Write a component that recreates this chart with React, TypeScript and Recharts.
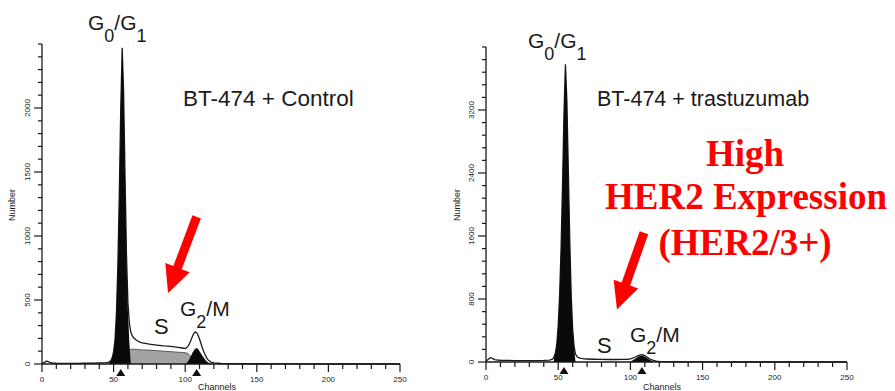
import React from 'react';
import { ComposedChart, Area, XAxis, YAxis, ReferenceDot, ReferenceLine } from 'recharts';

// channel positions shared by both histograms
const channels = [
  0, 2, 3, 4, 6, 8, 10, 15, 20, 25, 30, 35, 40, 44, 46, 47, 48, 49, 50,
  51, 52, 53, 54, 55, 56, 57, 58, 59, 60, 61, 62, 63, 64, 66, 68, 70,
  75, 80, 85, 90, 95, 98, 100, 101, 102, 103, 104, 105, 106, 107, 108, 109,
  110, 111, 112, 113, 114, 115, 116, 118, 120, 125, 130, 140, 150, 175, 200, 225, 250,
];

// BT-474 + Control
const controlTotal = [
  4, 14, 22, 20, 10, 7, 6, 5, 5, 5, 6, 6, 8, 10, 12, 16, 26, 48, 95,
  190, 400, 780, 1340, 2000, 2470, 2120, 1450, 850, 480, 320, 250, 222, 205, 185, 172, 165,
  155, 148, 142, 138, 130, 125, 120, 128, 140, 160, 185, 215, 238, 252, 245, 225,
  195, 160, 125, 95, 70, 48, 32, 15, 8, 4, 3, 2, 2, 1, 0, 0, 0,
];
const controlG1Channels = [47, 48, 49, 50, 51, 52, 53, 54, 55, 56, 57, 58, 59, 60, 61, 62];
const controlG1 = [14, 24, 46, 93, 188, 398, 778, 1338, 1998, 2468, 2118, 1440, 820, 420, 170, 0];
const controlSChannels = [61, 62, 63, 64, 66, 68, 70, 75, 80, 85, 90, 95, 98, 100, 101, 102, 103, 104, 105, 106, 107];
const controlS = [110, 114, 116, 115, 114, 112, 110, 108, 104, 100, 96, 92, 90, 88, 85, 80, 70, 55, 35, 15, 0];
const controlG2Channels = [100, 101, 102, 103, 104, 105, 106, 107, 108, 109, 110, 111, 112, 113, 114, 115, 116, 118, 120];
const controlG2 = [0, 8, 22, 40, 62, 85, 105, 120, 125, 118, 100, 82, 65, 48, 34, 22, 12, 3, 0];
const controlMarkers = [55, 108];
const controlArrow = [[108, 1150], [88, 555]];

// BT-474 + trastuzumab
const trastTotal = [
  10, 40, 55, 50, 30, 25, 22, 20, 18, 18, 18, 18, 20, 25, 36, 60, 110, 220, 460,
  860, 1450, 2250, 3150, 3780, 3320, 2450, 1550, 850, 420, 200, 100, 68, 55, 45, 40, 38,
  35, 33, 32, 32, 33, 35, 40, 45, 52, 60, 70, 78, 85, 90, 92, 88,
  80, 70, 58, 45, 35, 27, 20, 12, 8, 5, 3, 2, 1, 0, 0, 0, 0,
];
const trastG1Channels = [47, 48, 49, 50, 51, 52, 53, 54, 55, 56, 57, 58, 59, 60, 61, 62];
const trastG1 = [58, 108, 218, 458, 858, 1448, 2248, 3148, 3778, 3318, 2448, 1548, 848, 410, 180, 0];
const trastG2Channels = [100, 101, 102, 103, 104, 105, 106, 107, 108, 109, 110, 111, 112, 113, 114, 115, 116];
const trastG2 = [0, 15, 25, 38, 50, 62, 72, 78, 80, 76, 68, 58, 45, 33, 22, 12, 0];
const trastMarkers = [54, 108];
const trastArrow = [[109.4, 1642], [90.7, 666]];

// axes
const xTicks = Array.from({ length: 26 }, (_, i) => i * 10);
const xTickLabels = [0, 50, 100, 150, 200, 250];
const controlYTicks = Array.from({ length: 26 }, (_, i) => i * 100);
const controlYLabels = [0, 500, 1000, 1500, 2000];
const trastYTicks = Array.from({ length: 26 }, (_, i) => i * 160);
const trastYLabels = [0, 800, 1600, 2400, 3200];

const SANS = '"Liberation Sans", Arial, Helvetica, sans-serif';
const SERIF = '"Liberation Serif", "Times New Roman", serif';
const INK = '#1a1a1a';

const lookup = (chs: number[], vals: number[], ch: number) => {
  const i = chs.indexOf(ch);
  return i < 0 ? null : vals[i];
};

const controlRows = channels.map((ch, i) => ({
  ch,
  total: controlTotal[i],
  s: lookup(controlSChannels, controlS, ch),
  g1: lookup(controlG1Channels, controlG1, ch),
  g2: lookup(controlG2Channels, controlG2, ch),
}));

const trastRows = channels.map((ch, i) => ({
  ch,
  total: trastTotal[i],
  s: null,
  g1: lookup(trastG1Channels, trastG1, ch),
  g2: lookup(trastG2Channels, trastG2, ch),
}));

const makeXTick = (labels: number[]) => (props: any) => {
  const { x, y, payload } = props;
  const major = labels.includes(payload.value);
  return (
    <g>
      <line x1={x} y1={y} x2={x} y2={y + (major ? 8 : 5)} stroke={INK} strokeWidth={1.2} />
      {major && (
        <text x={x} y={y + 18} textAnchor="middle" fontSize={8} fontFamily={SANS} fill={INK}>
          {payload.value}
        </text>
      )}
    </g>
  );
};

const makeYTick = (labels: number[]) => (props: any) => {
  const { x, y, payload } = props;
  const major = labels.includes(payload.value);
  return (
    <g>
      <line x1={x - (major ? 8 : 4)} y1={y} x2={x} y2={y} stroke={INK} strokeWidth={1.2} />
      {major && (
        <text
          x={x - 12}
          y={y}
          transform={`rotate(-90, ${x - 12}, ${y})`}
          textAnchor="middle"
          fontSize={8}
          fontFamily={SANS}
          fill={INK}
        >
          {payload.value}
        </text>
      )}
    </g>
  );
};

const Triangle = (p: any) => (
  <polygon
    points={`${p.cx},${p.cy + 5} ${p.cx - 4.5},${p.cy + 12} ${p.cx + 4.5},${p.cy + 12}`}
    fill="#111"
  />
);

const RedArrow = (p: any) => {
  const { x1, y1, x2, y2 } = p;
  const dx = x2 - x1;
  const dy = y2 - y1;
  const len = Math.hypot(dx, dy) || 1;
  const ux = dx / len;
  const uy = dy / len;
  const px = -uy;
  const py = ux;
  const head = 27;
  const hw = 13;
  const sw = 4.5;
  const bx = x2 - ux * head;
  const by = y2 - uy * head;
  const pts = [
    [x1 + px * sw, y1 + py * sw],
    [bx + px * sw, by + py * sw],
    [bx + px * hw, by + py * hw],
    [x2, y2],
    [bx - px * hw, by - py * hw],
    [bx - px * sw, by - py * sw],
    [x1 - px * sw, y1 - py * sw],
  ];
  return <polygon points={pts.map((q) => q.join(',')).join(' ')} fill="#ff0000" />;
};

type PanelProps = {
  rows: any[];
  yMax: number;
  yTicks: number[];
  yLabels: number[];
  markers: number[];
  arrow: number[][];
  width: number;
  yAxisWidth: number;
  xAxisHeight: number;
  margin: { top: number; right: number; bottom: number; left: number };
  showS: boolean;
};

const Panel = ({ rows, yMax, yTicks, yLabels, markers, arrow, width, yAxisWidth, xAxisHeight, margin, showS }: PanelProps) => (
  <ComposedChart width={width} height={391} data={rows} margin={margin}>
    <XAxis
      dataKey="ch"
      type="number"
      domain={[0, 250]}
      ticks={xTicks}
      interval={0}
      height={xAxisHeight}
      tickSize={0}
      tickMargin={0}
      tickLine={false}
      tick={makeXTick(xTickLabels)}
      axisLine={{ stroke: INK, strokeWidth: 1.3 }}
    />
    <YAxis
      type="number"
      domain={[0, yMax]}
      ticks={yTicks}
      interval={0}
      width={yAxisWidth}
      tickSize={0}
      tickMargin={0}
      tickLine={false}
      tick={makeYTick(yLabels)}
      axisLine={{ stroke: INK, strokeWidth: 1.3 }}
    />
    <Area
      type="linear"
      dataKey="total"
      stroke={INK}
      strokeWidth={1.3}
      fill="#ffffff"
      fillOpacity={1}
      dot={false}
      activeDot={false}
      isAnimationActive={false}
    />
    {showS && (
      <Area
        type="linear"
        dataKey="s"
        stroke="#555"
        strokeWidth={1}
        fill="#a3a3a3"
        fillOpacity={1}
        dot={false}
        activeDot={false}
        isAnimationActive={false}
      />
    )}
    <Area
      type="linear"
      dataKey="g1"
      stroke="none"
      fill="#0a0a0a"
      fillOpacity={1}
      dot={false}
      activeDot={false}
      isAnimationActive={false}
    />
    <Area
      type="linear"
      dataKey="g2"
      stroke="none"
      fill="#0a0a0a"
      fillOpacity={1}
      dot={false}
      activeDot={false}
      isAnimationActive={false}
    />
    {markers.map((m) => (
      <ReferenceDot key={m} x={m} y={0} r={0} shape={Triangle} ifOverflow="visible" />
    ))}
    <ReferenceLine
      segment={[
        { x: arrow[0][0], y: arrow[0][1] },
        { x: arrow[1][0], y: arrow[1][1] },
      ]}
      shape={RedArrow}
      ifOverflow="visible"
    />
  </ComposedChart>
);

const sub = (dy: number, size: number, text: string) => (
  <tspan dy={dy} fontSize={size}>
    {text}
  </tspan>
);

export default function App() {
  return (
    <div style={{ position: 'absolute', left: 0, top: 0, width: 895, height: 391, background: '#fff', overflow: 'hidden' }}>
      <div style={{ position: 'absolute', left: 0, top: 0 }}>
        <Panel
          rows={controlRows}
          yMax={2500}
          yTicks={controlYTicks}
          yLabels={controlYLabels}
          markers={controlMarkers}
          arrow={controlArrow}
          width={440}
          yAxisWidth={42}
          xAxisHeight={27}
          margin={{ top: 44, right: 40, bottom: 0, left: 0 }}
          showS
        />
      </div>
      <div style={{ position: 'absolute', left: 445, top: 0 }}>
        <Panel
          rows={trastRows}
          yMax={4000}
          yTicks={trastYTicks}
          yLabels={trastYLabels}
          markers={trastMarkers}
          arrow={trastArrow}
          width={445}
          yAxisWidth={41}
          xAxisHeight={29}
          margin={{ top: 47, right: 43, bottom: 0, left: 0 }}
          showS={false}
        />
      </div>
      <svg width={895} height={391} style={{ position: 'absolute', left: 0, top: 0, pointerEvents: 'none' }}>
        <g fontFamily={SANS} fill={INK}>
          {/* left panel */}
          <text x={88} y={30} fontSize={21}>
            G{sub(12, 18, '0')}
            {sub(-12, 21, '/G')}
            {sub(12, 18, '1')}
          </text>
          <text x={183} y={106} fontSize={22.5}>BT-474 + Control</text>
          <text x={154} y={334} fontSize={22}>S</text>
          <text x={180} y={316} fontSize={21}>
            G{sub(12, 18, '2')}
            {sub(-12, 21, '/M')}
          </text>
          <text x={15} y={205} fontSize={9} textAnchor="middle" transform="rotate(-90, 15, 205)">
            Number
          </text>
          <text x={198} y={390} fontSize={9}>Channels</text>

          {/* right panel */}
          <text x={528} y={48} fontSize={21}>
            G{sub(12, 18, '0')}
            {sub(-12, 21, '/G')}
            {sub(12, 18, '1')}
          </text>
          <text x={597} y={106} fontSize={21.5}>BT-474 + trastuzumab</text>
          <text x={597} y={353} fontSize={22}>S</text>
          <text x={630} y={342} fontSize={21}>
            G{sub(12, 18, '2')}
            {sub(-12, 21, '/M')}
          </text>
          <text x={460} y={205} fontSize={9} textAnchor="middle" transform="rotate(-90, 460, 205)">
            Number
          </text>
          <text x={643} y={390} fontSize={9}>Channels</text>
        </g>
        <g fontFamily={SERIF} fontWeight="bold" fill="#ff0000" fontSize={37} textAnchor="middle">
          <text x={745} y={166}>High</text>
          <text x={746} y={209}>HER2 Expression</text>
          <text x={745} y={255}>(HER2/3+)</text>
        </g>
      </svg>
    </div>
  );
}
